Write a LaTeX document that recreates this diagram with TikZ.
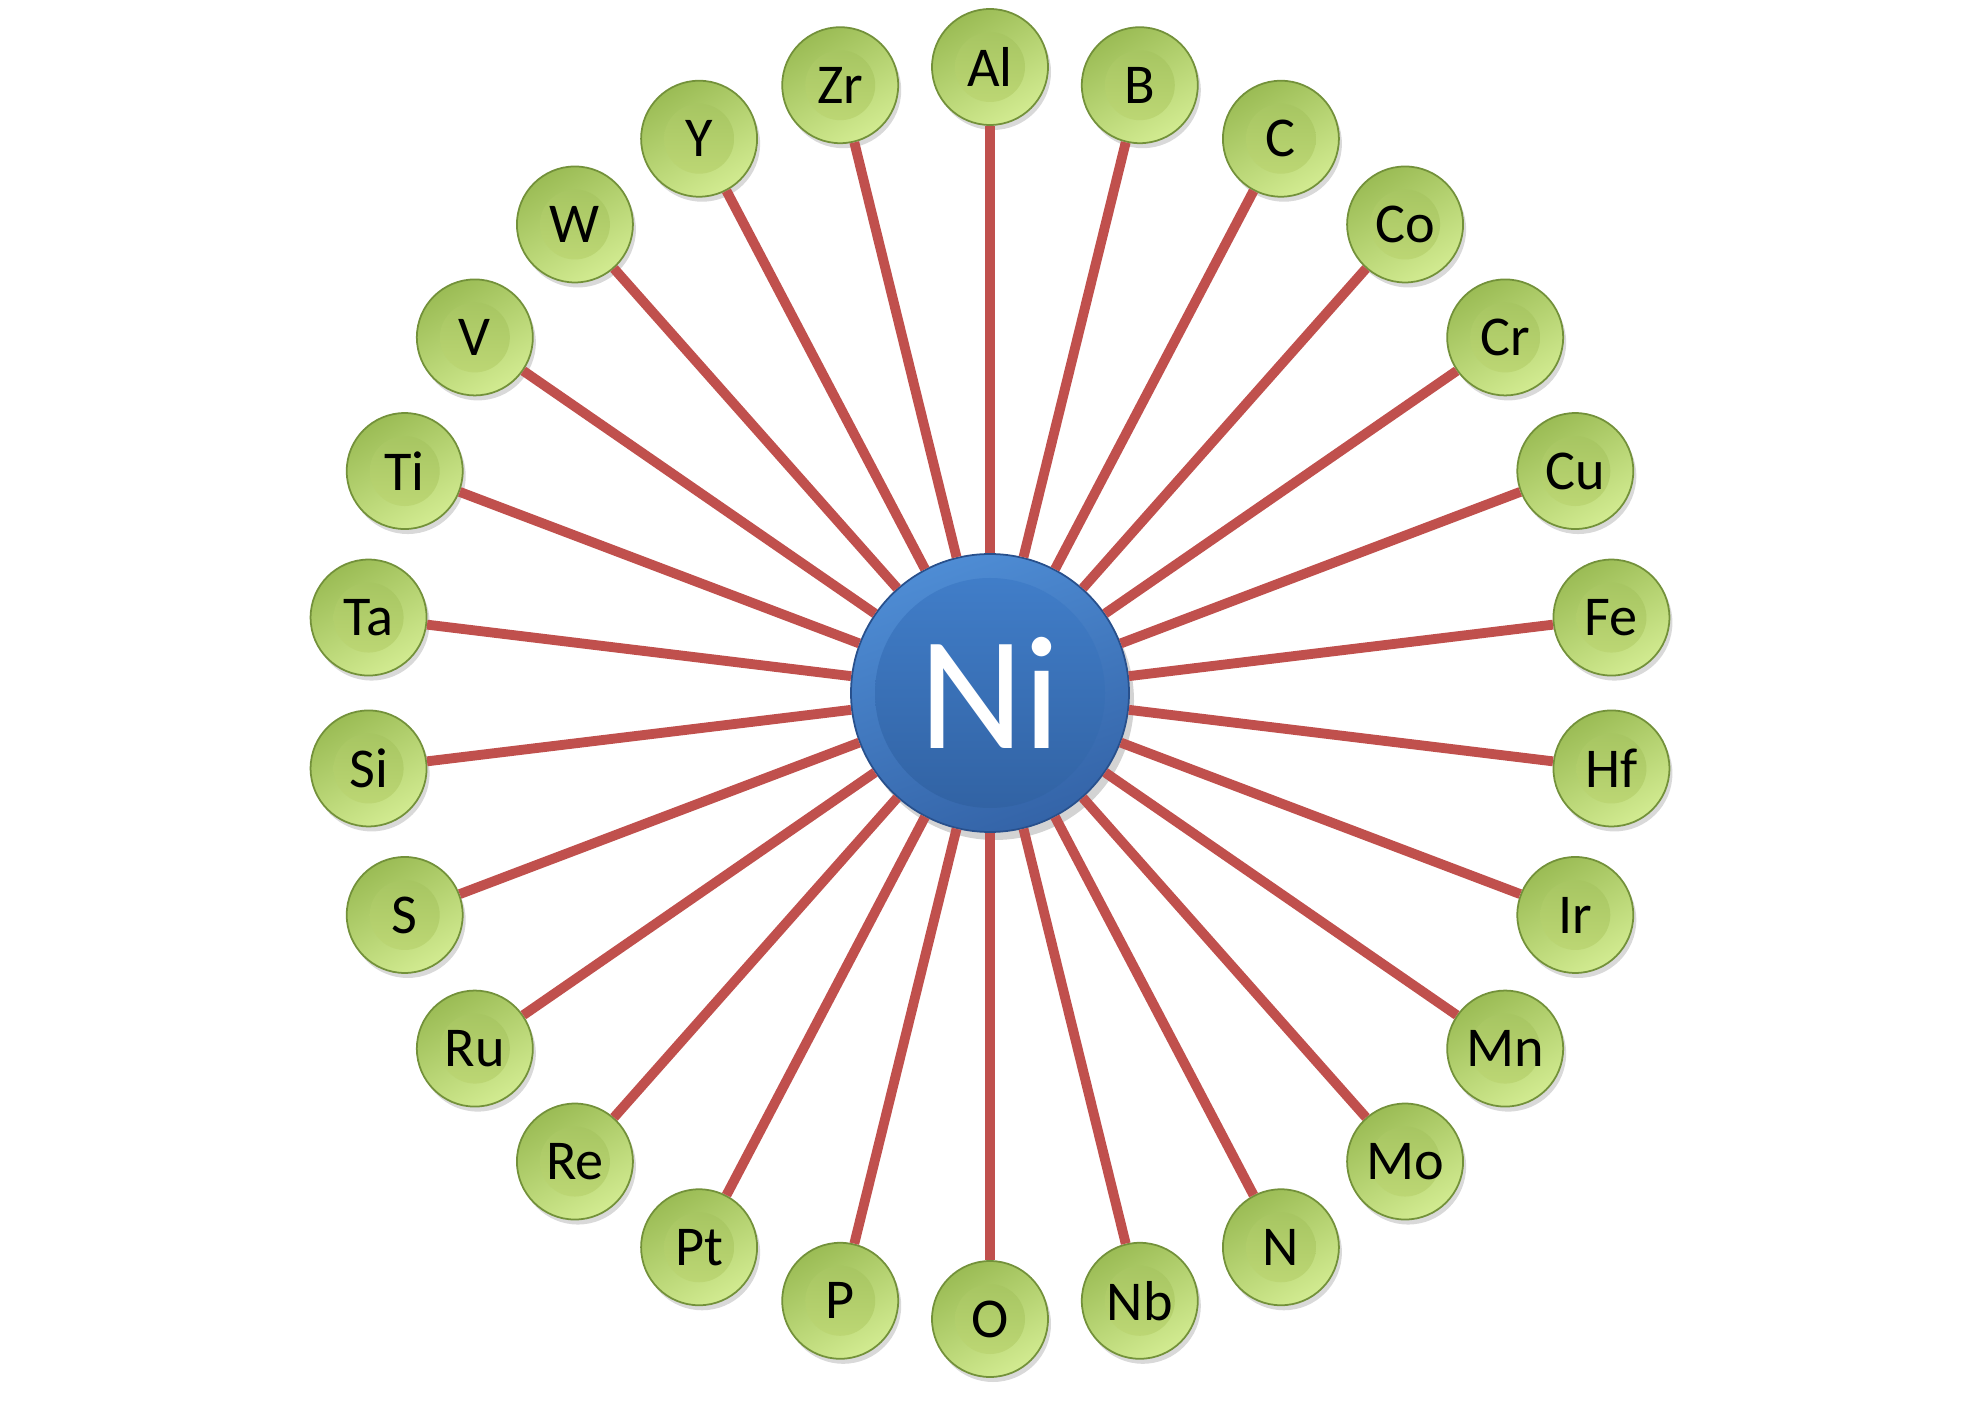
\documentclass[tikz,border=0pt]{standalone}
\usepackage{fontspec}
\setmainfont{Carlito}
\usetikzlibrary{shadows}

\definecolor{linkRed}{RGB}{192,80,77}
\definecolor{greenDark}{RGB}{155,188,85}
\definecolor{greenLight}{RGB}{210,235,145}
\definecolor{greenInnerTop}{RGB}{160,192,92}
\definecolor{greenInnerBottom}{RGB}{195,220,122}
\definecolor{greenEdge}{RGB}{115,145,58}
\definecolor{niTop}{RGB}{78,140,212}
\definecolor{niBottom}{RGB}{52,100,168}
\definecolor{niInnerTop}{RGB}{66,128,204}
\definecolor{niInnerBottom}{RGB}{48,96,160}
\definecolor{niEdge}{RGB}{40,80,140}

\begin{document}
\begin{tikzpicture}[
    niBall/.style={circle, minimum size=2.78cm, inner sep=0pt, draw=niEdge, line width=0.5pt,
        top color=niTop, bottom color=niBottom, shading angle=20,
        drop shadow={opacity=0.35, shadow xshift=0.05cm, shadow yshift=-0.08cm},
        path picture={\shade[top color=niInnerTop, bottom color=niInnerBottom] (path picture bounding box.center) circle (1.15cm);},
        text=white, font=\fontsize{46}{52}\selectfont},
    elementBall/.style={circle, minimum size=1.16cm, inner sep=0pt, draw=greenEdge, line width=0.5pt,
        top color=greenDark, bottom color=greenLight, shading angle=30,
        drop shadow={opacity=0.3, shadow xshift=0.03cm, shadow yshift=-0.05cm},
        path picture={\shade[top color=greenInnerTop, bottom color=greenInnerBottom] (path picture bounding box.center) circle (0.35cm);},
        text=black, font=\fontsize{16}{19}\selectfont},
    link/.style={draw=linkRed, line width=2.8pt}
]

\useasboundingbox (0,0) rectangle (19.8,14.11);

\node[niBall] (ni) at (9.9,7.18) {Ni};

\foreach \el [count=\i from 0] in {Al,B,C,Co,Cr,Cu,Fe,Hf,Ir,Mn,Mo,N,Nb,O,P,Pt,Re,Ru,S,Si,Ta,Ti,V,W,Y,Zr}
    \node[elementBall] (\el) at ([shift={(90-\i*360/26:6.26)}]ni) {\el};

\foreach \el in {Al,B,C,Co,Cr,Cu,Fe,Hf,Ir,Mn,Mo,N,Nb,O,P,Pt,Re,Ru,S,Si,Ta,Ti,V,W,Y,Zr}
    \draw[link] (ni) -- (\el);

\end{tikzpicture}
\end{document}
